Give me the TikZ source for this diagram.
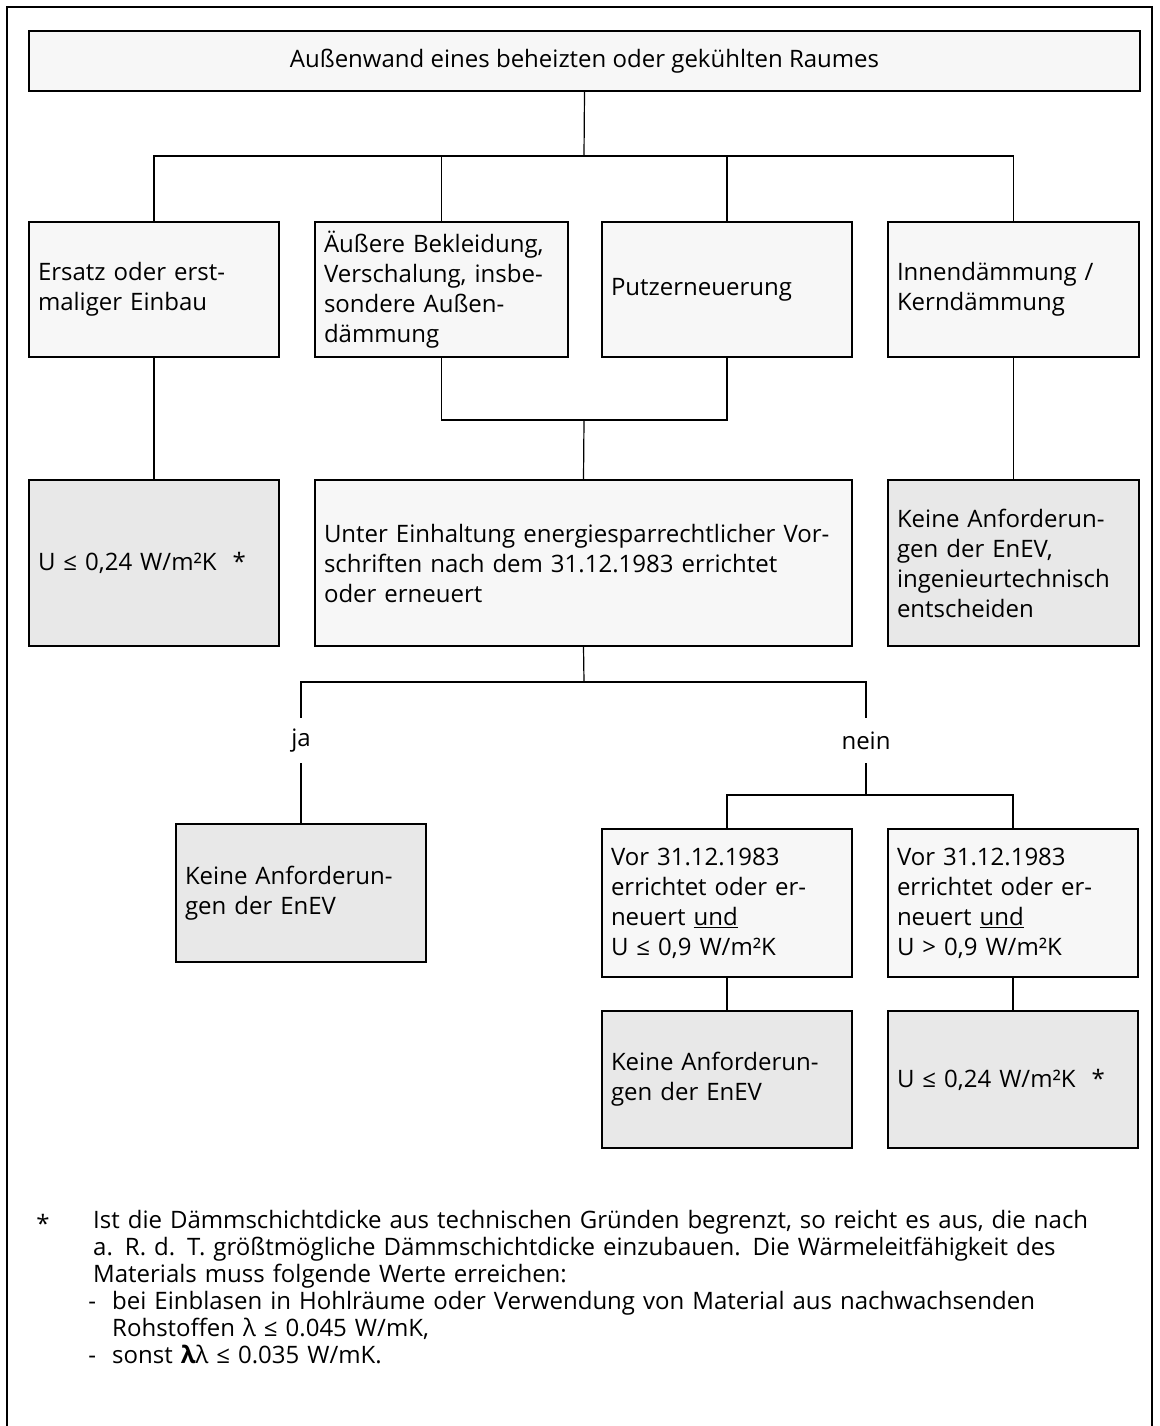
\documentclass[tikz,border=0pt]{standalone}
\usepackage{fontspec}
\setmainfont{Open Sans}
\usetikzlibrary{positioning}
\definecolor{paleback}{gray}{0.97}
\definecolor{resultback}{gray}{0.91}
\tikzset{askstyle/.style = {rectangle, draw = black, fill = paleback, line width = 1.5pt, inner xsep = 9pt, inner ysep = 0pt, align = left},
	endstyle/.style = {askstyle, fill = resultback},
	link/.style = {line width = 1.2pt}}

\begin{document}
\begin{tikzpicture}[x = 1pt, y = -1pt, font = \fontsize{24}{30}\selectfont]
 \useasboundingbox (0,0) rectangle (1159,1426);
 \draw [line width = 1.5pt] (7,1430) |- (1152,7) -- (1152,1430);

 \node (wall) at (584.5,61) [askstyle, minimum width = 1111pt, minimum height = 60pt, align = center] {Außenwand eines beheizten oder gekühlten Raumes};

 \node (ersatz) at (154,289.5) [askstyle, text width = 232pt, minimum height = 135pt] {Ersatz oder erst-\\maliger Einbau};
 \node (aussen) at (441.5,289.5) [askstyle, text width = 235pt, minimum height = 135pt] {Äußere Bekleidung,\\Verschalung, insbe-\\sondere Außen-\\dämmung};
 \node (putz) at (727,289.5) [askstyle, text width = 232pt, minimum height = 135pt] {Putzerneuerung};
 \node (innen) at (1013.5,289.5) [askstyle, text width = 233pt, minimum height = 135pt] {Innendämmung /\\Kerndämmung};

 \node (uwert) at (154,563) [endstyle, text width = 232pt, minimum height = 166pt] {U ≤ 0,24 W/m²K~ *};
 \node (unter) at (583.5,563) [askstyle, text width = 519pt, minimum height = 166pt] {Unter Einhaltung energiesparrechtlicher Vor-\\schriften nach dem 31.12.1983 errichtet\\oder erneuert};
 \node (ingenieur) at (1013.5,563) [endstyle, text width = 233pt, minimum height = 166pt] {Keine Anforderun-\\gen der EnEV,\\ingenieurtechnisch\\entscheiden};

 \node (ja) at (301,740.5) [minimum height = 45pt, inner sep = 0pt] {ja};
 \node (nein) at (866,740.5) [minimum height = 45pt, inner sep = 0pt] {nein};

 \node (keinja) at (301,893) [endstyle, text width = 232pt, minimum height = 138pt] {Keine Anforderun-\\gen der EnEV};
 \node (vorklein) at (727,903) [askstyle, text width = 232pt, minimum height = 148pt] {Vor 31.12.1983\\errichtet oder er-\\neuert \underline{und}\\U ≤ 0,9 W/m²K};
 \node (vorgross) at (1013,903) [askstyle, text width = 232pt, minimum height = 148pt] {Vor 31.12.1983\\errichtet oder er-\\neuert \underline{und}\\U > 0,9 W/m²K};
 \node (keinnein) at (727,1079.5) [endstyle, text width = 232pt, minimum height = 137pt] {Keine Anforderun-\\gen der EnEV};
 \node (unein) at (1013,1079.5) [endstyle, text width = 232pt, minimum height = 137pt] {U ≤ 0,24 W/m²K~ *};

 \coordinate (topbus) at (584,156);
 \coordinate (midbus) at (584,420);
 \coordinate (jabus) at (584,682);
 \coordinate (neinbus) at (866,795);

 \draw [link] (wall.south) -- (topbus);
 \draw [link] (ersatz.north) |- (topbus) -| (innen.north);
 \draw [link] (aussen.north) -- (aussen.north |- topbus);
 \draw [link] (putz.north) -- (putz.north |- topbus);
 \draw [link] (ersatz.south) -- (uwert.north);
 \draw [link] (innen.south) -- (ingenieur.north);
 \draw [link] (aussen.south) |- (midbus) -| (putz.south);
 \draw [link] (midbus) -- (unter.north);
 \draw [link] (unter.south) -- (jabus);
 \draw [link] (ja.north) |- (jabus) -| (nein.north);
 \draw [link] (ja.south) -- (keinja.north);
 \draw [link] (nein.south) -- (neinbus);
 \draw [link] (vorklein.north) |- (neinbus) -| (vorgross.north);
 \draw [link] (vorklein.south) -- (keinnein.north);
 \draw [link] (vorgross.south) -- (unein.north);

 % footnote
 \node (star) at (43,1232) [anchor = base, inner sep = 0pt] {*};
 \node (note) at (93,1210) [anchor = north west, inner sep = 0pt, text width = 1050pt, align = left, font = \fontsize{24}{27}\selectfont] {Ist die Dämmschichtdicke aus technischen Gründen begrenzt, so reicht es aus, die nach\\
 a. R. d. T. größtmögliche Dämmschichtdicke einzubauen. Die Wärmeleitfähigkeit des\\
 Materials muss folgende Werte erreichen:\\
 \hspace*{19pt}\llap{-\hspace{16pt}}bei Einblasen in Hohlräume oder Verwendung von Material aus nachwachsenden\\
 \hspace*{19pt}Rohstoffen λ ≤ 0.045 W/mK,\\
 \hspace*{19pt}\llap{-\hspace{16pt}}sonst {\bfseries λ}λ ≤ 0.035 W/mK.};
\end{tikzpicture}
\end{document}
